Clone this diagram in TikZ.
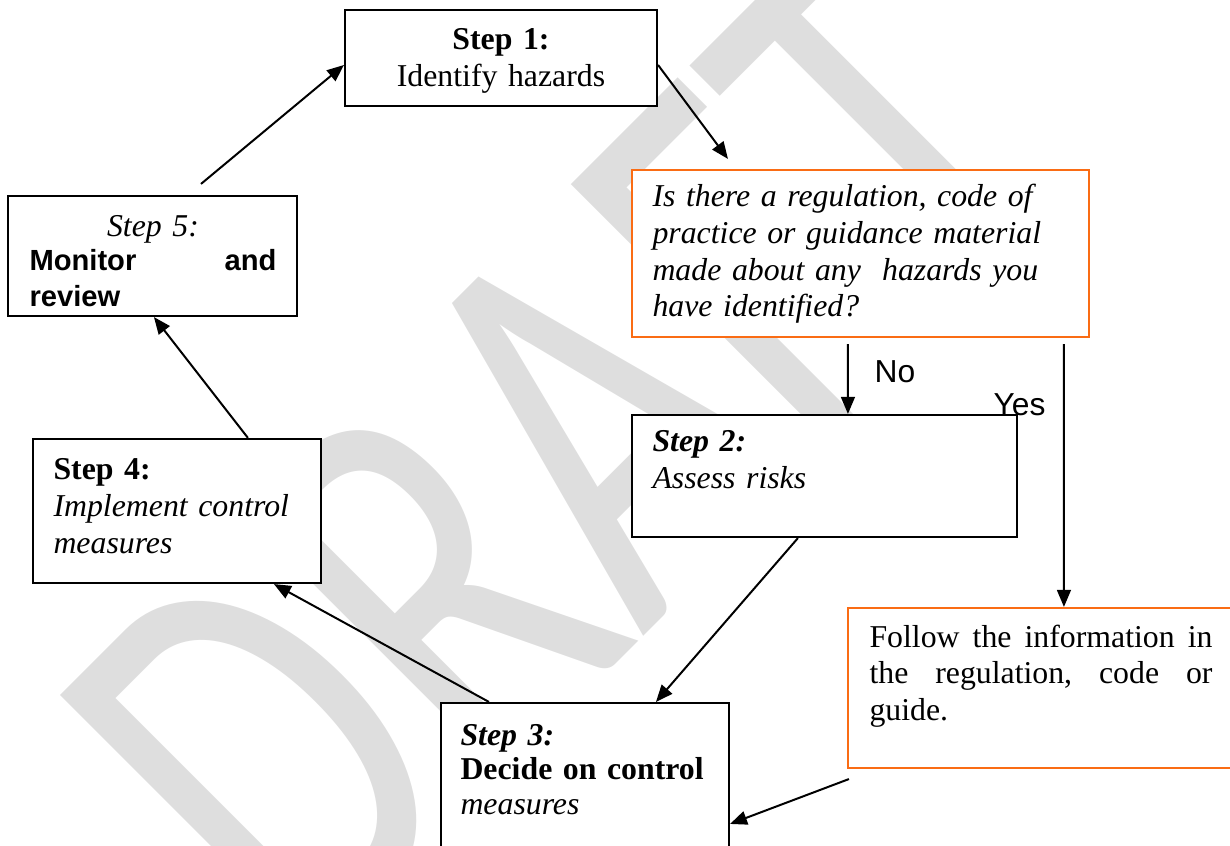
\documentclass[tikz,border=0pt]{standalone}
\usepackage{fontspec}
\setmainfont{Liberation Serif}
\setsansfont{Liberation Sans}
\newfontfamily\wmfont{Carlito}
\usetikzlibrary{arrows.meta,calc}

\definecolor{askorange}{RGB}{250,108,20}
\definecolor{wmgray}{RGB}{222,222,222}

\tikzset{
  stepbox/.style={draw, fill=white, line width=0.8pt, inner sep=0pt},
  askbox/.style={stepbox, draw=askorange},
  txt/.style={anchor=base west, inner sep=0pt, align=left,
    font=\fontsize{12}{13.8}\selectfont},
  lbl/.style={anchor=base west, inner sep=0pt,
    font=\sffamily\fontsize{12}{13.8}\selectfont},
  flow/.style={-{Triangle[length=6.4pt,width=5.2pt]}, line width=0.75pt},
  wmark/.style={inner sep=0pt, text=wmgray,
    font=\wmfont\fontsize{218}{218}\selectfont},
}

\begin{document}
\begin{tikzpicture}[x=0.3774pt, y=-0.3774pt]
\useasboundingbox (0,0) rectangle (1230,846);
\clip (0,0) rectangle (1230,846);

% watermark
\begin{scope}[shift={(566,452)}]
  \node[wmark, rotate=45, xscale=0.72] (wm) at (0,0) {DRAFT};
\end{scope}

% boxes
\node[stepbox, minimum width=117.75pt, minimum height=36.23pt] (s1) at (501,58) {};
\node[askbox, minimum width=172.47pt, minimum height=63.03pt] (q) at (860.5,253.5) {};
\node[stepbox, minimum width=109.07pt, minimum height=45.29pt] (s5) at (152.5,256) {};
\node[stepbox, minimum width=145.30pt, minimum height=46.04pt] (s2) at (824.5,476) {};
\node[stepbox, minimum width=108.69pt, minimum height=54.35pt] (s4) at (177,511) {};
\node[stepbox, minimum width=108.69pt, minimum height=67.93pt] (s3) at (585,793) {};
\node[askbox, minimum width=150.96pt, minimum height=60.38pt] (f) at (1048,688) {};

% texts
\node[txt, anchor=base, text width=110pt, align=center] (s1t) at (501,50)
  {\textbf{Step 1:}\\ Identify hazards};
\node[txt, text width=165pt] (qt) at (652,207)
  {\itshape Is there a regulation, code of\\ practice or guidance material\\
   made about any\ \ hazards you\\ have identified?};
\node[txt, text width=93.2pt] (s5t) at (29,237)
  {\hfill\textit{Step 5:}\hfill\null\\
   \sffamily\bfseries\fontsize{11}{12.6}\selectfont Monitor\hfill and\\ review};
\node[txt, text width=140pt] (s2t) at (652,452)
  {\textbf{\textit{Step 2:}}\\ \itshape Assess risks};
\node[txt, text width=100pt] (s4t) at (53,480)
  {\textbf{Step 4:}\\ \itshape Implement control\\ measures};
\node[txt, text width=100pt, font=\fontsize{12}{13.2}\selectfont] (s3t) at (460,745)
  {\textbf{\textit{Step 3:}}\\ \textbf{Decide on control}\\ \textit{measures}};
\node[txt, text width=129.45pt] (ft) at (869,647)
  {Follow\hfill the\hfill information\hfill in\\
   the\hfill regulation,\hfill code\hfill or\\ guide.};
\node[lbl] (no) at (874,383) {No};
\node[lbl] (yes) at (993,416) {Yes};

% connectors
\draw[flow] ($(s5.north)+(48.5,-11)$) -- ($(s1.west)+(0,7)$);
\draw[flow] ($(s1.east)+(0,7)$) -- ($(q.north west)+(97,-10)$);
\draw[flow] ($(q.south west)+(217,6)$) -- ($(s2.north west)+(217,0)$);
\draw[flow] ($(q.south west)+(433,6)$) -- ($(f.north west)+(217,0)$);
\draw[flow] ($(s2.south west)+(167,0)$) -- ($(s3.north west)+(216,0)$);
\draw[flow] ($(s3.north west)+(49,0)$) -- ($(s4.south west)+(242,0)$);
\draw[flow] ($(s4.north west)+(216,0)$) -- ($(s5.south west)+(147,0)$);
\draw[flow] ($(f.south west)+(2,10)$) -- ($(s3.north east)+(0,122)$);
\end{tikzpicture}
\end{document}
